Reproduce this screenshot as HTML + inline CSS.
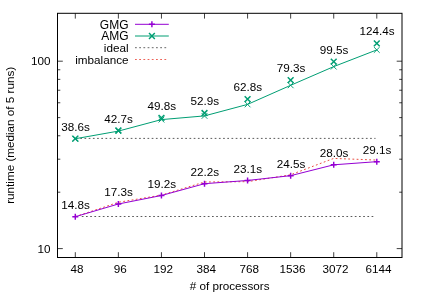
<!DOCTYPE html>
<html><head><meta charset="utf-8"><title>runtime</title>
<style>html,body{margin:0;padding:0;background:#fff;width:423px;height:295px;overflow:hidden}</style>
</head><body>
<svg width="423" height="295" viewBox="0 0 423 295" style="display:block;position:absolute;left:0;top:0;will-change:transform">
<rect width="423" height="295" fill="#fff"/>
<g font-family="'Liberation Sans', sans-serif" font-size="11.7px" fill="#000">
<path d="M57.5 248.60h5.3M402.0 248.60h-5.3M57.5 192.19h2.8M402.0 192.19h-2.8M57.5 159.19h2.8M402.0 159.19h-2.8M57.5 135.77h2.8M402.0 135.77h-2.8M57.5 117.61h2.8M402.0 117.61h-2.8M57.5 102.77h2.8M402.0 102.77h-2.8M57.5 90.23h2.8M402.0 90.23h-2.8M57.5 79.36h2.8M402.0 79.36h-2.8M57.5 69.77h2.8M402.0 69.77h-2.8M57.5 61.20h5.3M402.0 61.20h-5.3M75.30 257.5v-5.3M75.30 13.3v5.3M118.37 257.5v-5.3M118.37 13.3v5.3M161.44 257.5v-5.3M161.44 13.3v5.3M204.51 257.5v-5.3M204.51 13.3v5.3M247.58 257.5v-5.3M247.58 13.3v5.3M290.65 257.5v-5.3M290.65 13.3v5.3M333.72 257.5v-5.3M333.72 13.3v5.3M376.79 257.5v-5.3M376.79 13.3v5.3" stroke="#000" stroke-width="0.75" fill="none"/>
<text x="77.10" y="272.8" text-anchor="middle">48</text>
<text x="120.17" y="272.8" text-anchor="middle">96</text>
<text x="163.24" y="272.8" text-anchor="middle">192</text>
<text x="206.31" y="272.8" text-anchor="middle">384</text>
<text x="249.38" y="272.8" text-anchor="middle">768</text>
<text x="292.45" y="272.8" text-anchor="middle">1536</text>
<text x="335.52" y="272.8" text-anchor="middle">3072</text>
<text x="378.59" y="272.8" text-anchor="middle">6144</text>
<text x="50.6" y="64.50" text-anchor="end">100</text>
<text x="50.4" y="252.50" text-anchor="end">10</text>
<text x="229.6" y="290.3" text-anchor="middle"># of processors</text>
<text transform="translate(13.9 135.3) rotate(-90)" text-anchor="middle">runtime (median of 5 runs)</text>
<path d="M80.3 138.4H375.5" stroke="#000" stroke-width="0.65" stroke-dasharray="1.7 2.5" fill="none"/>
<path d="M81.8 216.5H375" stroke="#000" stroke-width="0.65" stroke-dasharray="1.7 2.5" fill="none"/>
<polyline points="75.30,216.69 118.37,202.29 161.44,195.11 204.51,181.99 247.58,181.66 290.65,174.77 333.72,158.40 376.79,160.07" stroke="#e51e10" stroke-width="0.8" stroke-dasharray="1.8 2.4" fill="none"/>
<polyline points="75.30,216.69 118.37,203.99 161.44,195.51 204.51,183.69 247.58,180.46 290.65,175.67 333.72,164.80 376.79,161.67" stroke="#9400d3" stroke-width="1" fill="none"/>
<path d="M72.30 216.69h6.0M75.30 213.69v6.0M115.37 203.99h6.0M118.37 200.99v6.0M158.44 195.51h6.0M161.44 192.51v6.0M201.51 183.69h6.0M204.51 180.69v6.0M244.58 180.46h6.0M247.58 177.46v6.0M287.65 175.67h6.0M290.65 172.67v6.0M330.72 164.80h6.0M333.72 161.80v6.0M373.79 161.67h6.0M376.79 158.67v6.0" stroke="#9400d3" stroke-width="1.45" fill="none"/>
<polyline points="75.30,138.74 118.37,131.10 161.44,119.60 204.51,115.90 247.58,104.40 290.65,85.30 333.72,66.60 376.79,49.90" stroke="#009e73" stroke-width="1" fill="none"/>
<path d="M72.40 135.84l5.8 5.8M72.40 141.64l5.8 -5.8M115.47 128.20l5.8 5.8M115.47 134.00l5.8 -5.8M158.54 116.70l5.8 5.8M158.54 122.50l5.8 -5.8M201.61 113.00l5.8 5.8M201.61 118.80l5.8 -5.8M244.68 101.50l5.8 5.8M244.68 107.30l5.8 -5.8M287.75 82.40l5.8 5.8M287.75 88.20l5.8 -5.8M330.82 63.70l5.8 5.8M330.82 69.50l5.8 -5.8M373.89 47.00l5.8 5.8M373.89 52.80l5.8 -5.8" stroke="#009e73" stroke-width="0.95" fill="none"/>
<path d="M72.40 135.77l5.8 5.8M72.40 141.57l5.8 -5.8M115.47 127.56l5.8 5.8M115.47 133.36l5.8 -5.8M158.54 115.04l5.8 5.8M158.54 120.84l5.8 -5.8M201.61 110.12l5.8 5.8M201.61 115.92l5.8 -5.8M244.68 96.16l5.8 5.8M244.68 101.96l5.8 -5.8M287.75 77.18l5.8 5.8M287.75 82.98l5.8 -5.8M330.82 58.71l5.8 5.8M330.82 64.51l5.8 -5.8M373.89 40.53l5.8 5.8M373.89 46.33l5.8 -5.8" stroke="#009e73" stroke-width="1.5" fill="none"/>
<text x="75.60" y="209.09" text-anchor="middle">14.8s</text>
<text x="118.67" y="196.39" text-anchor="middle">17.3s</text>
<text x="161.74" y="187.91" text-anchor="middle">19.2s</text>
<text x="204.81" y="176.09" text-anchor="middle">22.2s</text>
<text x="247.88" y="172.86" text-anchor="middle">23.1s</text>
<text x="290.95" y="168.07" text-anchor="middle">24.5s</text>
<text x="334.02" y="157.20" text-anchor="middle">28.0s</text>
<text x="377.09" y="153.77" text-anchor="middle">29.1s</text>
<text x="75.60" y="131.07" text-anchor="middle">38.6s</text>
<text x="118.67" y="122.86" text-anchor="middle">42.7s</text>
<text x="161.74" y="110.34" text-anchor="middle">49.8s</text>
<text x="204.81" y="105.42" text-anchor="middle">52.9s</text>
<text x="247.88" y="91.46" text-anchor="middle">62.8s</text>
<text x="290.95" y="72.48" text-anchor="middle">79.3s</text>
<text x="334.02" y="54.01" text-anchor="middle">99.5s</text>
<text x="377.09" y="35.23" text-anchor="middle">124.4s</text>
<text x="128.5" y="28.60" text-anchor="end" font-size="12px">GMG</text>
<text x="128.5" y="40.30" text-anchor="end" font-size="12px">AMG</text>
<text x="128.5" y="52.00" text-anchor="end">ideal</text>
<text x="128.5" y="63.80" text-anchor="end">imbalance</text>
<path d="M135.0 24.3H168.8" stroke="#9400d3" stroke-width="1" fill="none"/><path d="M148.90 24.30h6.0M151.90 21.30v6.0" stroke="#9400d3" stroke-width="1.45" fill="none"/>
<path d="M135.0 36.0H168.8" stroke="#009e73" stroke-width="1" fill="none"/><path d="M149.00 33.10l5.8 5.8M149.00 38.90l5.8 -5.8" stroke="#009e73" stroke-width="1.45" fill="none"/>
<path d="M135.0 47.7H168.0" stroke="#000" stroke-width="0.6" stroke-dasharray="1.8 2.4" fill="none"/>
<path d="M135.0 59.5H168.0" stroke="#e51e10" stroke-width="0.7" stroke-dasharray="1.8 2.4" fill="none"/>
<rect x="57.5" y="13.3" width="344.5" height="244.2" fill="none" stroke="#000" stroke-width="1"/>
</g></svg>
</body></html>
